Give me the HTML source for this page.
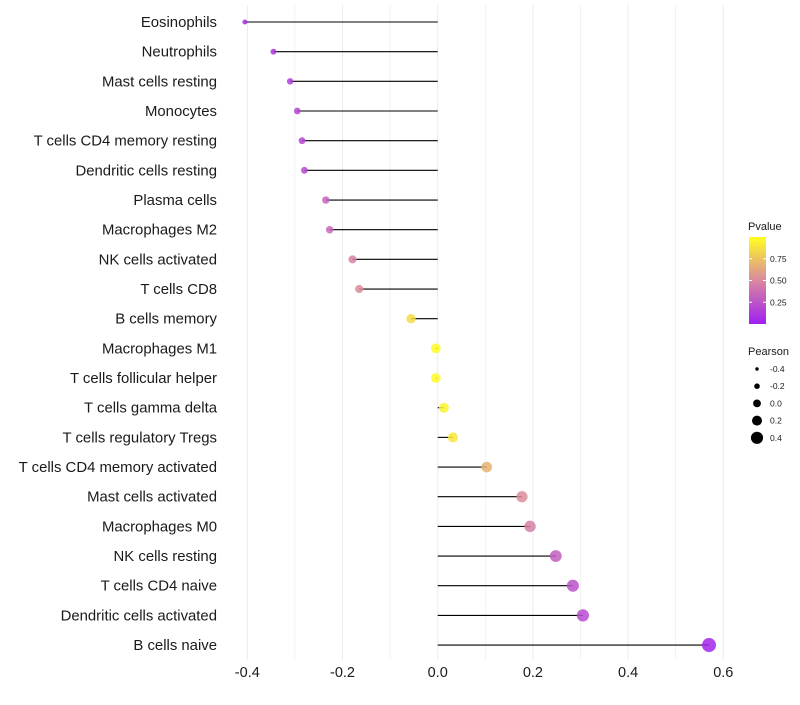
<!DOCTYPE html>
<html><head><meta charset="utf-8"><style>
body{margin:0;background:#fff;font-family:"Liberation Sans",sans-serif}
</style></head><body>
<svg id="c" width="800" height="700" xmlns="http://www.w3.org/2000/svg" font-family="Liberation Sans, sans-serif"></svg>
<script>
const categories=["Eosinophils","Neutrophils","Mast cells resting","Monocytes","T cells CD4 memory resting","Dendritic cells resting","Plasma cells","Macrophages M2","NK cells activated","T cells CD8","B cells memory","Macrophages M1","T cells follicular helper","T cells gamma delta","T cells regulatory  Tregs ","T cells CD4 memory activated","Mast cells activated","Macrophages M0","NK cells resting","T cells CD4 naive","Dendritic cells activated","B cells naive"];
const pearson=[-0.405,-0.345,-0.31,-0.295,-0.285,-0.28,-0.235,-0.227,-0.179,-0.165,-0.056,-0.004,-0.004,0.013,0.032,0.103,0.177,0.194,0.248,0.284,0.305,0.57];
const pvalue=[0.05,0.1,0.15,0.17,0.18,0.19,0.32,0.34,0.47,0.52,0.85,0.99,0.99,0.95,0.9,0.68,0.52,0.46,0.3,0.24,0.2,0.03];
const xTicks=[-0.4,-0.2,0,0.2,0.4,0.6];
const xTickLabels=["-0.4","-0.2","0.0","0.2","0.4","0.6"];
const pTicks=[0.25,0.5,0.75];
const sizeTicks=[-0.4,-0.2,0,0.2,0.4];
const sizeTickLabels=["-0.4","-0.2","0.0","0.2","0.4"];

const svg=document.getElementById('c');const NS="http://www.w3.org/2000/svg";
function el(t,a,p){const e=document.createElementNS(NS,t);for(const k in a)e.setAttribute(k,a[k]);(p||svg).appendChild(e);return e;}
const X=v=>437.7+v*476;
const Y=i=>22+i*29.67;
const R=v=>Math.sqrt(Math.max(4,6+44*(v+0.41)));
const RL=v=>1.7+(v+0.4)*5.5;
function lerp(a,b,t){return a.map((x,i)=>Math.round(x+(b[i]-x)*t));}
function col(p){const s0=[160,32,240],s1=[217,136,160],s2=[255,255,32];
 const c=p<0.5?lerp(s0,s1,p/0.5):lerp(s1,s2,(p-0.5)/0.5);return `rgb(${c})`;}
for(let v=-0.4;v<=0.61;v+=0.1){const g=el('line',{x1:X(v),x2:X(v),y1:5,y2:660,stroke:'#ebebeb','stroke-width':Math.abs(Math.round(v*10))%2==0?1:0.6});
}
categories.forEach((c,i)=>{
 const t=el('text',{x:217,y:Y(i)+5,'text-anchor':'end','font-size':14.9,fill:'#1a1a1a'});t.textContent=c;
 
 const l=el('line',{x1:X(0),x2:X(pearson[i]),y1:Y(i),y2:Y(i),stroke:'#000','stroke-width':1.1});
 
 const d=el('circle',{cx:X(pearson[i]),cy:Y(i),r:R(pearson[i]),fill:col(pvalue[i]),'fill-opacity':0.85});
 
});
xTicks.forEach((v,i)=>{const t=el('text',{x:X(v),y:677,'text-anchor':'middle','font-size':14.5,fill:'#1a1a1a'});t.textContent=xTickLabels[i];
});
const lt=el('text',{x:748,y:230,'font-size':11,fill:'#1a1a1a'});lt.textContent='Pvalue';

const defs=el('defs',{});const gr=el('linearGradient',{id:'g',x1:0,y1:1,x2:0,y2:0},defs);
[0,0.5,1].forEach(o=>el('stop',{offset:o,'stop-color':col(o)},gr));
const bar=el('rect',{x:749,y:237,width:17,height:87,fill:'url(#g)'});

const PY=p=>324-p*87;
pTicks.forEach(p=>{el('line',{x1:749,x2:752,y1:PY(p),y2:PY(p),stroke:'#fff'});el('line',{x1:763,x2:766,y1:PY(p),y2:PY(p),stroke:'#fff'});
const t=el('text',{x:770,y:PY(p)+3,'font-size':8.5,fill:'#1a1a1a'});t.textContent=p.toFixed(2);
});
const st=el('text',{x:748,y:355,'font-size':11,fill:'#1a1a1a'});st.textContent='Pearson';

sizeTicks.forEach((v,i)=>{const y=369+i*17.2;
const c=el('circle',{cx:757,cy:y,r:RL(v),fill:'#000'});
const t=el('text',{x:770,y:y+3,'font-size':8.5,fill:'#1a1a1a'});t.textContent=sizeTickLabels[i];
});
</script>
</body></html>
